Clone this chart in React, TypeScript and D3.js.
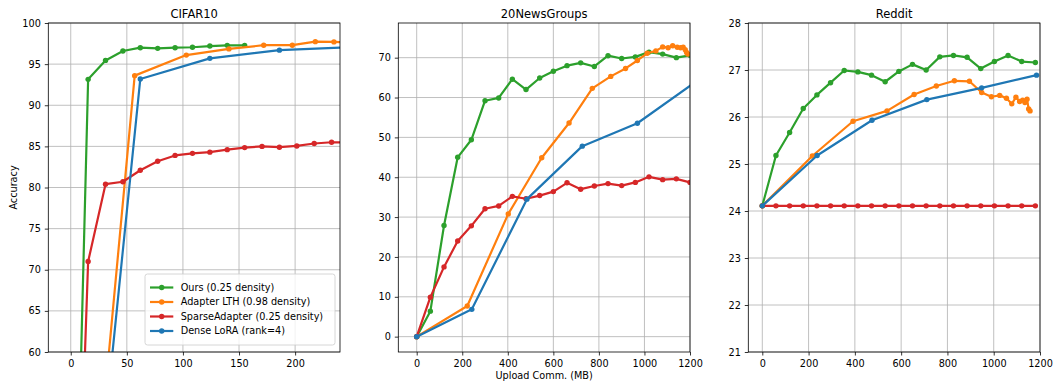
import React, { useRef, useEffect } from "react";
import * as d3 from "d3";

// CIFAR10
const cifarOursX = [0, 15.5, 31, 46.5, 62, 77.5, 93, 108.5, 124, 139.5, 155];
const cifarOursY = [10, 93.15, 95.45, 96.6, 97.0, 96.92, 97.0, 97.05, 97.2, 97.28, 97.28];
const cifarLthX = [0, 57, 103, 141, 172, 197.5, 218, 234.6, 249];
const cifarLthY = [10, 93.6, 96.1, 96.85, 97.3, 97.3, 97.73, 97.7, 97.6];
const cifarSparseX = [0, 15.5, 31, 46.5, 62, 77.5, 93, 108.5, 124, 139.5, 155, 170.5, 186, 201.5, 217, 232.5, 248];
const cifarSparseY = [10, 71.0, 80.4, 80.7, 82.1, 83.2, 83.9, 84.15, 84.3, 84.6, 84.85, 85.0, 84.9, 85.05, 85.35, 85.5, 85.45];
const cifarLoraX = [0, 62, 124, 186, 248];
const cifarLoraY = [10, 93.2, 95.7, 96.7, 97.05];

// 20NewsGroups
const newsOursX = [0, 60, 120, 180, 240, 300, 360, 420, 480, 540, 600, 660, 720, 780, 840, 900, 960, 1020, 1080, 1140, 1200];
const newsOursY = [0, 6.4, 27.9, 45.0, 49.4, 59.2, 59.9, 64.6, 62.0, 64.9, 66.6, 68.0, 68.7, 67.8, 70.5, 69.8, 70.2, 71.4, 70.9, 70.0, 70.6];
const newsLthX = [0, 222, 402, 549, 669, 771, 852, 917, 969, 1012, 1050, 1080, 1104, 1124, 1144, 1159, 1170, 1179, 1185, 1190];
const newsLthY = [0, 7.7, 30.8, 44.9, 53.6, 62.3, 65.3, 67.3, 69.3, 71.1, 71.7, 72.7, 72.5, 73.0, 72.6, 72.5, 72.6, 72.0, 71.3, 70.9];
const newsSparseX = [0, 60, 120, 180, 240, 300, 360, 420, 480, 540, 600, 660, 720, 780, 840, 900, 960, 1020, 1080, 1140, 1200];
const newsSparseY = [0, 9.9, 17.5, 24.0, 27.8, 32.1, 32.8, 35.2, 34.6, 35.4, 36.4, 38.6, 37.0, 37.8, 38.4, 37.9, 38.7, 40.1, 39.4, 39.6, 38.7];
const newsLoraX = [0, 242, 484, 727, 969, 1211];
const newsLoraY = [0, 6.85, 34.5, 47.8, 53.55, 63.35];

// Reddit
const redditOursX = [0, 59, 118, 177, 236, 295, 354, 413, 472, 531, 590, 649, 708, 767, 826, 885, 944, 1003, 1062, 1121, 1180];
const redditOursY = [24.11, 25.18, 25.67, 26.18, 26.47, 26.73, 26.99, 26.96, 26.89, 26.75, 26.97, 27.12, 27.0, 27.28, 27.31, 27.27, 27.03, 27.18, 27.31, 27.18, 27.16];
const redditLthX = [0, 216, 392, 539, 656, 752, 830, 895, 948, 990, 1026, 1055, 1078, 1096, 1112, 1125, 1135, 1144, 1151, 1157];
const redditLthY = [24.11, 25.17, 25.91, 26.13, 26.48, 26.66, 26.77, 26.76, 26.52, 26.43, 26.46, 26.4, 26.28, 26.42, 26.33, 26.36, 26.31, 26.38, 26.17, 26.13];
const redditSparseX = [0, 59, 118, 177, 236, 295, 354, 413, 472, 531, 590, 649, 708, 767, 826, 885, 944, 1003, 1062, 1121, 1180];
const redditSparseY = [24.11, 24.11, 24.11, 24.11, 24.11, 24.11, 24.11, 24.11, 24.11, 24.11, 24.11, 24.11, 24.11, 24.11, 24.11, 24.11, 24.11, 24.11, 24.11, 24.11, 24.11];
const redditLoraX = [0, 237, 474, 711, 948, 1185];
const redditLoraY = [24.11, 25.18, 25.93, 26.37, 26.62, 26.89];

const seriesNames = ["Ours (0.25 density)", "Adapter LTH (0.98 density)", "SparseAdapter (0.25 density)", "Dense LoRA (rank=4)"];
const seriesColors = ["#2ca02c", "#ff7f0e", "#d62728", "#1f77b4"];

const panelTitles = ["CIFAR10", "20NewsGroups", "Reddit"];
const cifarXTicks = [0, 50, 100, 150, 200];
const cifarYTicks = [60, 65, 70, 75, 80, 85, 90, 95, 100];
const newsXTicks = [0, 200, 400, 600, 800, 1000, 1200];
const newsYTicks = [0, 10, 20, 30, 40, 50, 60, 70];
const redditXTicks = [0, 200, 400, 600, 800, 1000, 1200];
const redditYTicks = [21, 22, 23, 24, 25, 26, 27, 28];

const font = "DejaVu Sans, sans-serif";

const App = () => {
  const ref = useRef<SVGSVGElement>(null);

  useEffect(() => {
    const svg = d3.select(ref.current);
    svg.selectAll("*").remove();

    const top = 23;
    const bottom = 352;
    const panelW = 291.7;

    const panels = [
      {
        xDomain: [-20, 240], yDomain: [60, 100], xTicks: cifarXTicks, yTicks: cifarYTicks,
        lines: [[cifarOursX, cifarOursY], [cifarLthX, cifarLthY], [cifarSparseX, cifarSparseY], [cifarLoraX, cifarLoraY]],
      },
      {
        xDomain: [-80.8, 1200], yDomain: [-3.85, 78.7], xTicks: newsXTicks, yTicks: newsYTicks,
        lines: [[newsOursX, newsOursY], [newsLthX, newsLthY], [newsSparseX, newsSparseY], [newsLoraX, newsLoraY]],
      },
      {
        xDomain: [-60.5, 1200], yDomain: [21, 28], xTicks: redditXTicks, yTicks: redditYTicks,
        lines: [[redditOursX, redditOursY], [redditLthX, redditLthY], [redditSparseX, redditSparseY], [redditLoraX, redditLoraY]],
      },
    ];

    panels.forEach((p, i) => {
      const left = 48.3 + i * 350;
      const x = d3.scaleLinear().domain(p.xDomain).range([left, left + panelW]);
      const y = d3.scaleLinear().domain(p.yDomain).range([bottom, top]);
      const g = svg.append("g");

      // grid
      g.selectAll(".vgrid")
        .data(p.xTicks)
        .enter()
        .append("line")
        .attr("x1", (d) => x(d))
        .attr("x2", (d) => x(d))
        .attr("y1", top)
        .attr("y2", bottom)
        .attr("stroke", "#b0b0b0")
        .attr("stroke-width", 0.8);
      g.selectAll(".hgrid")
        .data(p.yTicks)
        .enter()
        .append("line")
        .attr("x1", left)
        .attr("x2", left + panelW)
        .attr("y1", (d) => y(d))
        .attr("y2", (d) => y(d))
        .attr("stroke", "#b0b0b0")
        .attr("stroke-width", 0.8);

      // lines
      const clipId = "clip-" + i;
      svg.append("clipPath").attr("id", clipId)
        .append("rect").attr("x", left).attr("y", top).attr("width", panelW).attr("height", bottom - top);
      const plot = g.append("g").attr("clip-path", `url(#${clipId})`);
      p.lines.forEach(([xs, ys], k) => {
        const pts = xs.map((v, j) => [v, ys[j]] as [number, number]);
        const line = d3.line<[number, number]>().x((d) => x(d[0])).y((d) => y(d[1]));
        plot.append("path")
          .attr("d", line(pts))
          .attr("fill", "none")
          .attr("stroke", seriesColors[k])
          .attr("stroke-width", 2.2)
          .attr("stroke-linejoin", "round");
        plot.selectAll(".pt-" + k)
          .data(pts)
          .enter()
          .append("circle")
          .attr("cx", (d) => x(d[0]))
          .attr("cy", (d) => y(d[1]))
          .attr("r", 2.7)
          .attr("fill", seriesColors[k]);
      });

      // axes
      const xAxis = g.append("g")
        .attr("transform", `translate(0,${bottom})`)
        .call(d3.axisBottom(x).tickValues(p.xTicks).tickFormat(d3.format("d")).tickSize(3.5).tickPadding(4.5).tickSizeOuter(0));
      const yAxis = g.append("g")
        .attr("transform", `translate(${left},0)`)
        .call(d3.axisLeft(y).tickValues(p.yTicks).tickFormat(d3.format("d")).tickSize(3.5).tickPadding(4).tickSizeOuter(0));
      [xAxis, yAxis].forEach((a) => {
        a.select(".domain").remove();
        a.attr("font-family", font).attr("font-size", 9.7);
        a.selectAll("line").attr("stroke", "#000").attr("stroke-width", 0.8);
        a.selectAll("text").attr("fill", "#000");
      });

      // spines
      g.append("rect")
        .attr("x", left)
        .attr("y", top)
        .attr("width", panelW)
        .attr("height", bottom - top)
        .attr("fill", "none")
        .attr("stroke", "#000")
        .attr("stroke-width", 0.8);

      g.append("text")
        .attr("x", left + panelW / 2)
        .attr("y", 18)
        .attr("text-anchor", "middle")
        .attr("font-family", font)
        .attr("font-size", 11.5)
        .text(panelTitles[i]);
    });

    // axis labels
    svg.append("text")
      .attr("transform", `translate(16.5,${(top + bottom) / 2}) rotate(-90)`)
      .attr("text-anchor", "middle")
      .attr("font-family", font)
      .attr("font-size", 9.7)
      .text("Accuracy");
    svg.append("text")
      .attr("x", 48.3 + 350 + panelW / 2)
      .attr("y", 379)
      .attr("text-anchor", "middle")
      .attr("font-family", font)
      .attr("font-size", 9.7)
      .text("Upload Comm. (MB)");

    // legend
    const lg = svg.append("g");
    lg.append("rect")
      .attr("x", 145)
      .attr("y", 274)
      .attr("width", 190)
      .attr("height", 71)
      .attr("rx", 2.5)
      .attr("fill", "white")
      .attr("fill-opacity", 0.8)
      .attr("stroke", "#cccccc")
      .attr("stroke-width", 0.8);
    seriesNames.forEach((name, k) => {
      const cy = 287.5 + k * 14.5;
      lg.append("line")
        .attr("x1", 150)
        .attr("x2", 173.3)
        .attr("y1", cy)
        .attr("y2", cy)
        .attr("stroke", seriesColors[k])
        .attr("stroke-width", 2.2);
      lg.append("circle").attr("cx", 161.7).attr("cy", cy).attr("r", 2.7).attr("fill", seriesColors[k]);
      lg.append("text")
        .attr("x", 180.7)
        .attr("y", cy)
        .attr("dy", "0.35em")
        .attr("font-family", font)
        .attr("font-size", 9.7)
        .text(name);
    });
  }, []);

  return (
    <svg
      ref={ref}
      width={1057}
      height={389}
      style={{ position: "absolute", left: 0, top: 0, background: "white" }}
    />
  );
};

export default App;
